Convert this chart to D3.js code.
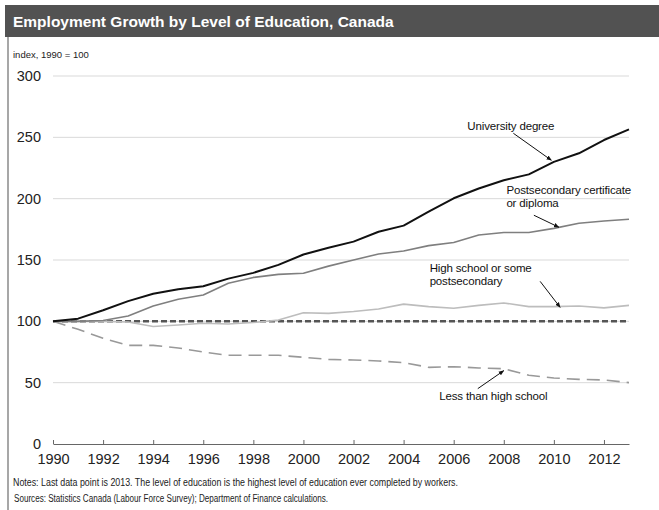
<!DOCTYPE html>
<html>
<head>
<meta charset="utf-8">
<script src="https://cdn.jsdelivr.net/npm/d3@7"></script>
<style>
  html, body { margin: 0; padding: 0; background: #fff; }
  svg { display: block; font-family: "Liberation Sans", Arial, sans-serif; }
</style>
</head>
<body>
<svg id="chart" width="659" height="510"></svg>
<script>
// Employment index by highest level of education completed (1990 = 100)
const years = d3.range(1990, 2014);
const university = [100, 102.2, 109, 116.5, 122.5, 126.2, 128.6, 134.8, 139.5, 146, 154.5, 160, 165, 173, 178, 189.4, 200.3, 208.3, 215, 219.8, 230, 237, 247.8, 256.5];
const postsecondary = [100, 100, 100.7, 104.3, 112.5, 118, 121.5, 131, 135.8, 138.3, 139.2, 145, 150, 154.9, 157.3, 161.7, 164.3, 170.4, 172.4, 172.4, 175.8, 180, 181.8, 183.2];
const highSchool = [100, 100, 100, 99.5, 95.8, 97, 98.4, 97.8, 99, 101, 107, 106.5, 108, 110, 114, 112, 110.7, 113, 115, 112, 112, 112.5, 111, 113];
const lessThanHighSchool = [100, 93.5, 86.2, 80.4, 80.4, 78.3, 75, 72.3, 72.3, 72.3, 70.7, 69, 68.5, 67.7, 66.3, 62.5, 63, 62, 61.4, 56, 53.8, 52.7, 52.2, 50];
const baseIndex = 100;

const yTicks = [0, 50, 100, 150, 200, 250, 300];
const xTicks = d3.range(1990, 2013, 2);

const titleText = "Employment Growth by Level of Education, Canada";
const unitText = "index, 1990 = 100";
const notesText = "Notes: Last data point is 2013. The level of education is the highest level of education ever completed by workers.";
const sourcesText = "Sources: Statistics Canada (Labour Force Survey); Department of Finance calculations.";

const svg = d3.select("#chart");

// Frame: title band and left rule
svg.append("rect").attr("x", 5).attr("y", 5).attr("width", 654).attr("height", 32).attr("fill", "#525252");
svg.append("text").attr("x", 13).attr("y", 27)
  .attr("fill", "#fff").attr("font-weight", "bold").attr("font-size", 15.5)
  .text(titleText);
svg.append("line").attr("x1", 8).attr("x2", 8).attr("y1", 37).attr("y2", 510)
  .attr("stroke", "#8a8a8a").attr("stroke-width", 1.5);

svg.append("text").attr("x", 13).attr("y", 58).attr("font-size", 9.5).attr("fill", "#222").text(unitText);

const x = d3.scaleLinear().domain([1990, 2013]).range([53, 629]);
const y = d3.scaleLinear().domain([0, 300]).range([444, 76]);

// Horizontal gridlines
svg.append("g").selectAll("line")
  .data(yTicks.filter(d => d > 0))
  .join("line")
  .attr("x1", x(1990)).attr("x2", x(2013))
  .attr("y1", d => y(d)).attr("y2", d => y(d))
  .attr("stroke", "#d9d9d9").attr("stroke-width", 1);

// Y axis labels (no axis line)
const yAxis = svg.append("g").attr("transform", `translate(${x(1990)},0)`)
  .call(d3.axisLeft(y).tickValues(yTicks).tickSize(0).tickPadding(12));
yAxis.select(".domain").remove();
yAxis.selectAll("text").attr("font-size", 14.5).attr("fill", "#222")
  .attr("font-family", "Liberation Sans, Arial, sans-serif");

// X axis with inward ticks
const xAxis = svg.append("g").attr("transform", `translate(0,${y(0)})`)
  .call(d3.axisBottom(x).tickValues(xTicks).tickFormat(d3.format("d")).tickSizeInner(-4).tickSizeOuter(0).tickPadding(10));
xAxis.select(".domain").attr("stroke", "#666");
xAxis.selectAll(".tick line").attr("stroke", "#666");
xAxis.selectAll("text").attr("font-size", 14.5).attr("fill", "#222")
  .attr("font-family", "Liberation Sans, Arial, sans-serif");

const line = d3.line().x((d, i) => x(years[i])).y(d => y(d));

// Base-year reference
svg.append("line")
  .attr("x1", x(1990)).attr("x2", x(2013))
  .attr("y1", y(baseIndex)).attr("y2", y(baseIndex))
  .attr("stroke", "#555").attr("stroke-width", 2.5).attr("stroke-dasharray", "6,3");

const series = [
  { values: lessThanHighSchool, color: "#999", width: 1.6, dash: "13,7" },
  { values: highSchool, color: "#bdbdbd", width: 1.6, dash: null },
  { values: postsecondary, color: "#7f7f7f", width: 1.6, dash: null },
  { values: university, color: "#111", width: 2, dash: null }
];
svg.append("g").selectAll("path")
  .data(series)
  .join("path")
  .attr("d", d => line(d.values))
  .attr("fill", "none")
  .attr("stroke", d => d.color)
  .attr("stroke-width", d => d.width)
  .attr("stroke-dasharray", d => d.dash)
  .attr("stroke-linejoin", "round");

// Labels with pointer arrows
svg.append("defs").append("marker")
  .attr("id", "arrow").attr("viewBox", "0 0 10 10")
  .attr("refX", 9).attr("refY", 5)
  .attr("markerWidth", 5.5).attr("markerHeight", 5.5)
  .attr("orient", "auto")
  .append("path").attr("d", "M0,1 L10,5 L0,9 Z").attr("fill", "#111");

const labels = [
  { lines: ["University degree"], year: 2009.9, value: 231.3, tail: [-38, -27], text: [-84, -30] },
  { lines: ["Postsecondary certificate", "or diploma"], year: 2010.2, value: 176.7, tail: [-25, -12], text: [-52.5, -33] },
  { lines: ["High school or some", "postsecondary"], year: 2010.25, value: 111.4, tail: [-20, -26], text: [-130.5, -35.5] },
  { lines: ["Less than high school"], year: 2008.0, value: 59.8, tail: [-26, 18], text: [-64.5, 29] }
];
const ann = svg.append("g");
labels.forEach(l => {
  const tx = x(l.year), ty = y(l.value);
  ann.append("line")
    .attr("x1", tx + l.tail[0]).attr("y1", ty + l.tail[1])
    .attr("x2", tx).attr("y2", ty)
    .attr("stroke", "#111").attr("stroke-width", 1)
    .attr("marker-end", "url(#arrow)");
  const t = ann.append("text").attr("x", tx + l.text[0]).attr("y", ty + l.text[1])
    .attr("font-size", 11.5).attr("fill", "#111").attr("letter-spacing", -0.15);
  l.lines.forEach((s, i) => {
    t.append("tspan").attr("x", tx + l.text[0]).attr("dy", i === 0 ? 0 : 12.8).text(s);
  });
});

// Notes and sources
svg.append("text").attr("x", 13).attr("y", 486).attr("font-size", 10)
  .attr("fill", "#222").attr("textLength", 445).attr("lengthAdjust", "spacingAndGlyphs").text(notesText);
svg.append("text").attr("x", 14).attr("y", 502).attr("font-size", 10)
  .attr("fill", "#222").attr("textLength", 314).attr("lengthAdjust", "spacingAndGlyphs").text(sourcesText);
</script>
</body>
</html>
